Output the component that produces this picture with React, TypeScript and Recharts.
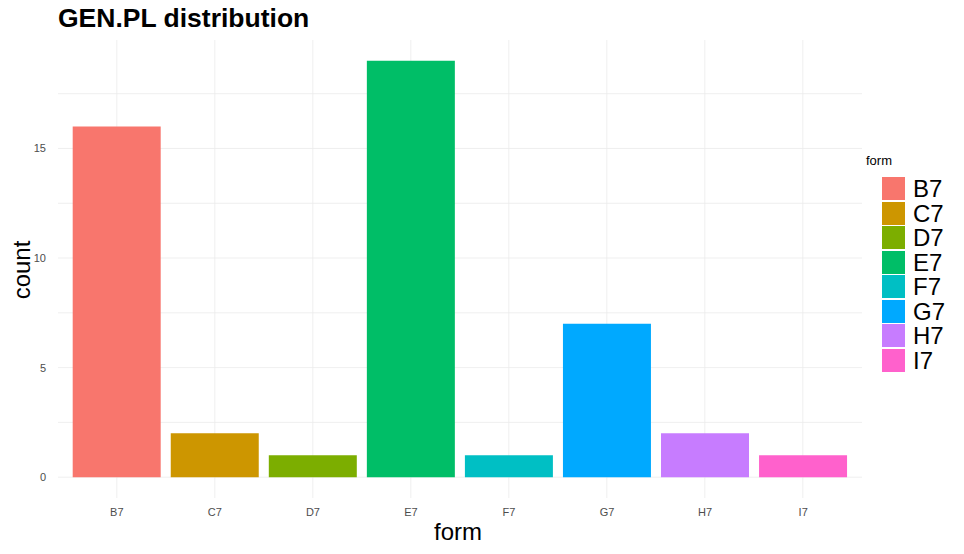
import { BarChart, Bar, Cell, XAxis, YAxis, CartesianGrid } from 'recharts';

const forms = ['B7', 'C7', 'D7', 'E7', 'F7', 'G7', 'H7', 'I7'];
const counts = [16, 2, 1, 19, 1, 7, 2, 1];
const colors = ['#F8766D', '#CD9600', '#7CAE00', '#00BE67', '#00BFC4', '#00A9FF', '#C77CFF', '#FF61CC'];
const yTicks = [0, 5, 10, 15];
const gridValues = [0, 2.5, 5, 7.5, 10, 12.5, 15, 17.5];

const data = forms.map((f, i) => ({ form: f, count: counts[i], fill: colors[i] }));
const font = '"Liberation Sans", Arial, sans-serif';
// category centres in pixels (plot left 58, padding 9.8, band 98)
const vPoints = forms.map((_, i) => 116.8 + 98 * i);

export default function App() {
  return (
    <div style={{ position: 'absolute', left: 0, top: 0, width: 964, height: 554, background: '#fff', fontFamily: font }}>
      <div style={{ position: 'absolute', left: 58, top: 3, fontSize: 26.5, fontWeight: 'bold', color: '#000' }}>
        GEN.PL distribution
      </div>
      <BarChart width={964} height={554} data={data} margin={{ top: 40, right: 102, bottom: 26, left: 38 }} barCategoryGap="5%">
        <CartesianGrid horizontalValues={gridValues} verticalPoints={vPoints} stroke="#ebebeb" strokeWidth={0.8} />
        <XAxis dataKey="form" height={30} padding={{ left: 9.8, right: 9.8 }} tickLine={false} axisLine={false}
          tick={{ fontSize: 11, fill: '#4d4d4d', fontFamily: font }} tickMargin={4} />
        <YAxis type="number" domain={[-0.95, 19.95]} ticks={yTicks} width={20} tickLine={false} axisLine={false}
          tick={{ fontSize: 11, fill: '#4d4d4d', fontFamily: font }} tickMargin={6} allowDataOverflow />
        <Bar dataKey="count" isAnimationActive={false}>
          {data.map((d) => <Cell key={d.form} fill={d.fill} />)}
        </Bar>
      </BarChart>
      <div style={{ position: 'absolute', left: 22, top: 270, transform: 'translate(-50%,-50%) rotate(-90deg)', fontSize: 24, whiteSpace: 'nowrap' }}>count</div>
      <div style={{ position: 'absolute', left: 458, top: 532, transform: 'translate(-50%,-50%)', fontSize: 24 }}>form</div>
      <div style={{ position: 'absolute', left: 866, top: 153, fontSize: 13 }}>form</div>
      {forms.map((f, i) => (
        <div key={f} style={{ position: 'absolute', left: 882, top: 177 + i * 24.5, display: 'flex', alignItems: 'center' }}>
          <div style={{ width: 23, height: 23, background: colors[i] }} />
          <span style={{ marginLeft: 8, fontSize: 24, lineHeight: '23px' }}>{f}</span>
        </div>
      ))}
    </div>
  );
}
